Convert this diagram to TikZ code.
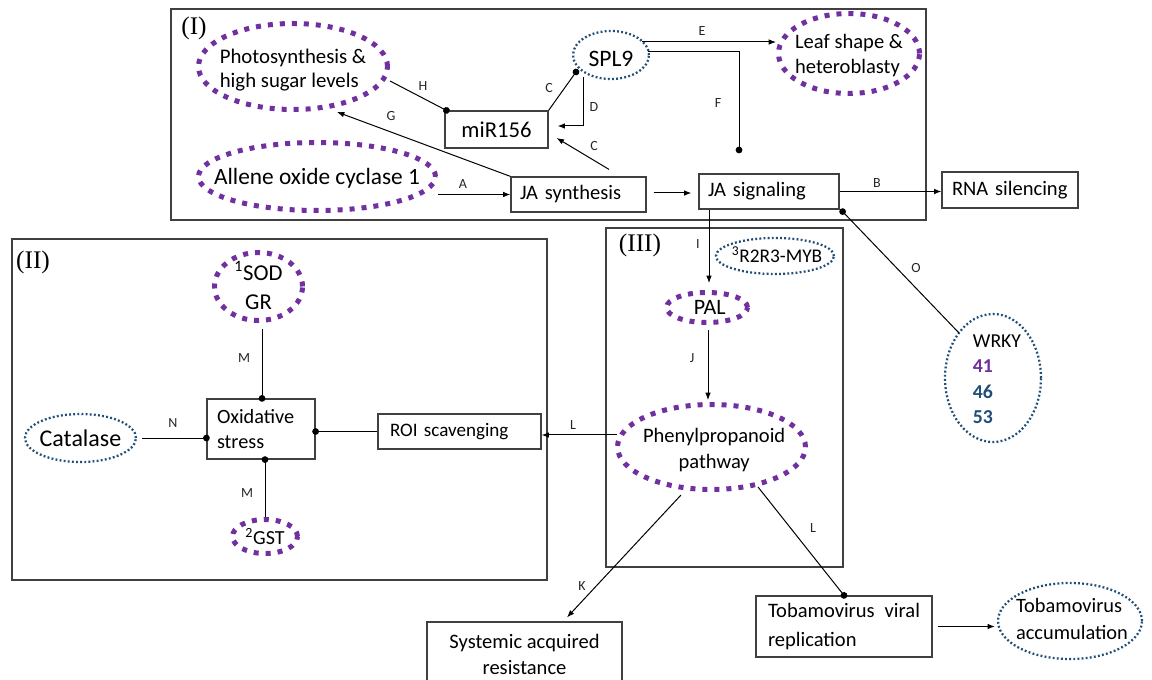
\documentclass[tikz,border=0pt]{standalone}
\usepackage{fontspec}
\setmainfont{Carlito}
\newfontfamily\tnr{Liberation Serif}
\usetikzlibrary{arrows.meta,shapes.geometric,calc}
\definecolor{purp}{HTML}{7030A0}
\definecolor{dblue}{HTML}{1F4E79}
\definecolor{bord}{HTML}{404040}
\newcommand{\fsz}[2]{\fontsize{#1}{#2}\selectfont}
\begin{document}
\begin{tikzpicture}[x=0.75pt,y=-0.75pt,
  region/.style={draw=bord,line width=1pt},
  box/.style={draw=bord,line width=0.9pt,rectangle,inner sep=0pt},
  lbox/.style={box,align=left,inner xsep=#1},
  pell/.style={draw=purp,ellipse,inner sep=0pt,line width=3.75pt,dash pattern=on 3.75pt off 5.25pt},
  bell/.style={draw=dblue,ellipse,inner sep=0pt,line width=1.7pt,dash pattern=on 1.4pt off 1.7pt},
  conn/.style={draw=black,line width=0.75pt},
  arr/.style={conn,-{Latex[length=5.5pt,width=4.2pt]}},
  dotend/.style={conn,-{Circle[length=5pt]},shorten >=-2.5pt},
  dotstart/.style={conn,{Circle[length=5pt]}-,shorten <=-2.5pt},
  lab/.style={font=\fsz{10.5}{12},inner sep=0pt,text=black!85},
  sec/.style={font=\tnr\fsz{19}{22},inner sep=0pt},
]
\useasboundingbox (0,0) rectangle (1152,680);
\fill[white] (0,0) rectangle (1152,680);
\clip (0,0) rectangle (1152,680);

% regions
\draw[region] (171,9) rectangle (926,220);
\draw[region] (12,239) rectangle (547,580);
\draw[region] (606,228) rectangle (843,567);
\node[sec] (secI) at (194,28) {(I)};
\node[sec] (secII) at (33,262) {(II)};
\node[sec] (secIII) at (640,245) {(III)};

% region I nodes
\node[pell,minimum width=141.75pt,minimum height=64.5pt,
  label={[align=left,font=\fsz{15.6}{18},yshift=-2.5pt]center:{Photosynthesis \&\\high sugar levels}}] (photo) at (293,66.5) {};
\node[bell,minimum width=57pt,minimum height=36pt,
  label={[font=\fsz{17.7}{20},yshift=-3pt]center:{SPL9}}] (spl) at (611,55) {};
\node[pell,minimum width=105.75pt,minimum height=60pt,
  label={[align=left,font=\fsz{15.4}{18.75},yshift=-1.5pt]center:{Leaf shape \&\\heteroblasty}}] (leaf) at (849,53.5) {};
\node[pell,minimum width=177.75pt,minimum height=51pt,
  label={[font=\fsz{17.5}{20},yshift=-1.5pt]center:{Allene oxide cyclase 1}}] (allene) at (317,176.5) {};
\node[box,minimum width=77.25pt,minimum height=27.75pt,font=\fsz{17}{20}] (mir) at (496.5,129.5) {miR156\hspace{6pt}};
\node[lbox=6.75pt,text width=87.75pt,minimum height=26.25pt,font=\fsz{15.4}{18}] (jasyn) at (578.5,194.5) {JA synthesis};
\node[lbox=6.75pt,text width=91.5pt,minimum height=26.25pt,font=\fsz{15.4}{18}] (jasig) at (769,191.5) {JA signaling};
\node[lbox=7.5pt,text width=87pt,minimum height=27pt,font=\fsz{15.4}{18}] (rnasil) at (1010,190) {RNA silencing};

% region II nodes
\node[pell,minimum width=66pt,minimum height=51pt,
  label={[align=center,font=\fsz{17}{21.75},yshift=0.75pt]center:{\textsuperscript{1}SOD\\GR}}] (sod) at (258.5,286.5) {};
\node[bell,minimum width=83.25pt,minimum height=36pt,
  label={[font=\fsz{18}{20}]center:{Catalase}}] (cat) at (80.5,438) {};
\node[lbox=7.5pt,text width=66pt,minimum height=45pt,font=\fsz{15.2}{18.75}] (ox) at (261,429) {Oxidative\\stress};
\node[pell,minimum width=48.75pt,minimum height=25.5pt,
  label={[font=\fsz{15}{18}]center:{\textsuperscript{2}GST}}] (gst) at (265,536.5) {};
\node[lbox=9pt,text width=104.25pt,minimum height=26.25pt,font=\fsz{14.3}{17}] (roi) at (459.5,431.5) {ROI scavenging};

% region III nodes
\node[bell,minimum width=88.5pt,minimum height=27pt,
  label={[font=\fsz{14.5}{17},xshift=1.5pt,yshift=1pt]center:{\textsuperscript{3}R2R3-MYB}}] (myb) at (775,256) {};
\node[pell,minimum width=60.75pt,minimum height=22.5pt,
  label={[font=\fsz{16.5}{19},xshift=2pt]center:{PAL}}] (pal) at (707,307.5) {};
\node[pell,minimum width=141pt,minimum height=63.75pt,
  label={[align=center,font=\fsz{15.4}{19.5},xshift=2pt,yshift=-2pt]center:{Phenylpropanoid\\pathway}}] (phen) at (711.5,447) {};

% outside nodes
\node[bell,minimum width=72pt,minimum height=96pt,
  label={[align=left,font=\fsz{14.8}{19},xshift=3pt,yshift=-1pt]center:{WRKY\\\textcolor{purp}{\textbf{41}}\\\textcolor{dblue}{\textbf{46}}\\\textcolor{dblue}{\textbf{53}}}}] (wrky) at (993,378) {};
\node[box,minimum width=146.25pt,minimum height=48pt,align=center,font=\fsz{15.4}{19.5}] (sar) at (524.5,654) {Systemic acquired\\resistance};
\node[lbox=9pt,text width=114pt,minimum height=45.75pt,font=\fsz{15.4}{21.75}] (tobrep) at (844,626.5) {Tobamovirus\hfill viral\\replication};
\node[bell,minimum width=108pt,minimum height=57pt,
  label={[align=left,font=\fsz{15.3}{20.25},xshift=1.5pt,yshift=1.5pt]center:{Tobamovirus\\accumulation}}] (tobacc) at (1070,621) {};

% connectors region I
\draw[arr] (allene.east |- jasyn.west) -- (jasyn.west);
\draw[arr] ([shift={(7,-1.5)}]jasyn.east) -- ([shift={(-7,1.5)}]jasig.west);
\draw[arr] (jasig.east) -- (jasig.east -| rnasil.west);
\draw[arr] (jasyn.north west) -- ([shift={(44,45.5)}]photo.center);
\draw[arr] ([shift={(30.5,-7)}]jasyn.north) -- ([shift={(8,8.5)}]mir.east);
\draw[dotend] (mir.north east) -- ([shift={(-35,17)}]spl.center);
\draw[dotend] ([shift={(97,14.5)}]photo.center) -- ([xshift=1.5pt]mir.north west);
\draw[arr] ([shift={(-28,22)}]spl.center) |- ([shift={(9,-3.5)}]mir.east);
\coordinate (e1) at ([shift={(31,-13)}]spl.center);
\draw[arr] (e1) -- (e1 -| leaf.west);
\coordinate (fend) at (739,150);
\draw[dotend] ([shift={(37,-3)}]spl.center) -| (fend);
\draw[dotstart] ([shift={(3,2)}]jasig.south east) -- ([shift={(-34,-45)}]wrky.center);

% connectors region III / II
\draw[arr] ([xshift=1.5pt]jasig.south -| pal.north) -- ([shift={(2,-7)}]pal.north);
\draw[arr] ([shift={(1,5)}]pal.south) -- ($(pal.south |- phen.north)+(1,-2)$);
\coordinate (l1) at ([shift={(2,-12)}]phen.west);
\draw[arr] (l1) -- (l1 -| roi.east);
\draw[dotend] (roi.west) -- (roi.west -| ox.east);
\draw[dotend] ([xshift=3.75pt]cat.east) -- (cat.east -| ox.west);
\draw[dotend] ($(sod.south -| ox.north)+(1,6)$) -- ([xshift=0.75pt]ox.north);
\draw[dotend] (gst.north) -- (gst.north |- ox.south);
\draw[arr] ([shift={(-30.5,48)}]phen.center) -- ([shift={(42.5,-4)}]sar.north);
\draw[dotend] ([shift={(46.5,40)}]phen.center) -- (tobrep.north);
\draw[arr] ([xshift=3.75pt]tobrep.east) -- ($(tobrep.east -| tobacc.west)+(-2,0)$);

% edge labels
\node[lab] (lA) at (463,184) {A};
\node[lab] (lB) at (877,183) {B};
\node[lab] (lC1) at (549,88) {C};
\node[lab] (lC2) at (594,146) {C};
\node[lab] (lD) at (594,107) {D};
\node[lab] (lE) at (702,31) {E};
\node[lab] (lF) at (718,103) {F};
\node[lab] (lG) at (391,116) {G};
\node[lab] (lH) at (423,86) {H};
\node[lab] (lI) at (698,244) {I};
\node[lab] (lJ) at (692,358) {J};
\node[lab] (lK) at (582,586) {K};
\node[lab] (lL1) at (573,425) {L};
\node[lab] (lL2) at (813,528) {L};
\node[lab] (lM1) at (244,358) {M};
\node[lab] (lM2) at (247,493) {M};
\node[lab] (lN) at (173,423) {N};
\node[lab] (lO) at (916,268) {O};
\end{tikzpicture}
\end{document}
